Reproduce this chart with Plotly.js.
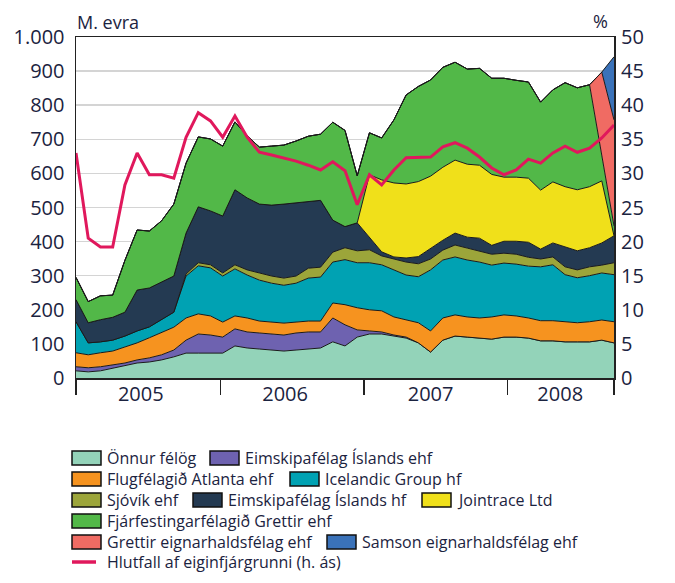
<!DOCTYPE html>
<html>
<head>
<meta charset="utf-8">
<script src="https://cdn.plot.ly/plotly-3.0.1.min.js"></script>
<style>
  html, body { margin: 0; padding: 0; background: #fff; }
  #chart { width: 675px; height: 583px; }
</style>
</head>
<body>
<div id="chart"></div>
<script>
// monthly, jan 2005 - sep 2008
const months = [
  "2005-01","2005-02","2005-03","2005-04","2005-05","2005-06","2005-07","2005-08","2005-09","2005-10","2005-11","2005-12",
  "2006-01","2006-02","2006-03","2006-04","2006-05","2006-06","2006-07","2006-08","2006-09","2006-10","2006-11","2006-12",
  "2007-01","2007-02","2007-03","2007-04","2007-05","2007-06","2007-07","2007-08","2007-09","2007-10","2007-11","2007-12",
  "2008-01","2008-02","2008-03","2008-04","2008-05","2008-06","2008-07","2008-08","2008-09"
];
const years = ["2005", "2006", "2007", "2008"];

// M. evra
const onnur = [21,18,21,29,38,44,47,53,62,73,73,73,73,94,88,85,82,79,82,85,88,106,94,120,129,129,123,117,103,76,111,123,120,117,114,120,120,117,109,109,106,106,106,111,103];
const eimskipEhf = [12,12,12,9,6,9,12,15,20,38,56,53,47,50,47,47,47,47,50,50,47,70,62,21,9,6,3,3,0,0,0,0,0,0,0,0,0,0,0,0,0,0,0,0,0];
const atlanta = [41,38,41,41,47,50,59,65,67,65,59,56,44,38,41,35,35,35,32,32,32,44,59,65,62,62,53,50,59,62,65,62,59,59,65,65,62,59,59,59,59,56,59,59,62];
const icelandic = [91,35,32,32,32,35,32,38,44,123,141,141,135,138,126,120,114,111,114,126,129,120,132,132,138,135,138,132,135,179,170,170,167,164,152,152,152,152,158,164,138,132,135,138,138];
const sjovik = [0,0,0,0,0,0,0,0,0,6,9,9,9,12,15,21,21,21,21,29,29,29,35,35,38,26,32,38,38,32,29,35,35,32,32,29,29,26,23,23,23,23,26,23,35];
const eimskipHf = [65,59,65,67,70,120,114,111,106,120,164,158,167,220,211,202,208,217,214,196,196,94,62,82,35,12,6,12,21,32,29,35,32,38,26,35,38,44,29,41,59,56,56,65,79];
const jointrace = [0,0,0,0,0,0,0,0,0,0,0,0,0,0,0,0,0,0,0,0,0,0,0,0,185,211,217,217,220,211,214,214,214,214,208,188,188,188,173,179,176,179,179,182,0];
const grettirFjarf = [65,62,70,65,152,176,167,179,211,205,205,211,205,199,182,167,173,173,182,191,194,287,282,138,123,123,185,261,279,282,293,287,279,284,282,290,284,282,258,270,305,299,299,73,29];
const grettirEign = [0,0,0,0,0,0,0,0,0,0,0,0,0,0,0,0,0,0,0,0,0,0,0,0,0,0,0,0,0,0,0,0,0,0,0,0,0,0,0,0,0,0,0,246,311];
const samson = [0,0,0,0,0,0,0,0,0,0,0,0,0,0,0,0,0,0,0,0,0,0,0,0,0,0,0,0,0,0,0,0,0,0,0,0,0,0,0,0,0,0,0,0,185];

// % (right axis)
const hlutfall = [33.0,20.5,19.2,19.2,28.3,33.0,29.8,29.8,29.3,35.3,38.9,37.7,35.3,38.4,35.3,33.1,32.7,32.3,31.8,31.2,30.5,31.7,30.4,25.4,29.8,28.3,30.5,32.3,32.3,32.4,33.9,34.5,33.7,32.4,30.8,29.8,30.5,32.1,31.5,33.0,34.0,33.1,33.7,35.2,37.1];

const series = [
  {name: "Önnur félög", y: onnur, color: "#93d3b9"},
  {name: "Eimskipafélag Íslands ehf", y: eimskipEhf, color: "#6e62b0"},
  {name: "Flugfélagið Atlanta ehf", y: atlanta, color: "#f6931f"},
  {name: "Icelandic Group hf", y: icelandic, color: "#00a2b3"},
  {name: "Sjóvík ehf", y: sjovik, color: "#9ca53a"},
  {name: "Eimskipafélag Íslands hf", y: eimskipHf, color: "#243a52"},
  {name: "Jointrace Ltd", y: jointrace, color: "#f0e01a"},
  {name: "Fjárfestingarfélagið Grettir ehf", y: grettirFjarf, color: "#52b848"},
  {name: "Grettir eignarhaldsfélag ehf", y: grettirEign, color: "#f06b63"},
  {name: "Samson eignarhaldsfélag ehf", y: samson, color: "#3a72b9"}
];
const lineName = "Hlutfall af eiginfjárgrunni (h. ás)";
const lineColor = "#e0185c";

const xs = months.map((m, i) => i);
const textColor = "#1b2340";
const font = "Open Sans, sans-serif";

const data = series.map(s => ({
  x: xs,
  y: s.y,
  name: s.name,
  type: "scatter",
  mode: "lines",
  stackgroup: "one",
  fillcolor: s.color,
  line: {color: "#1a1a1a", width: 1},
  showlegend: false,
  hoverinfo: "skip"
}));

// the % line sits on its own x2/y2 pair, x2 carries the year labels
data.push({
  x: xs,
  y: hlutfall,
  name: lineName,
  xaxis: "x2",
  yaxis: "y2",
  type: "scatter",
  mode: "lines",
  line: {color: lineColor, width: 3},
  showlegend: false,
  hoverinfo: "skip"
});

// plot box in pixels
const L = 76, R = 614, T = 37, B = 378;
const px = x => (x - L) / (R - L);
const py = y => (B - y) / (B - T);

const shapes = [];
const annotations = [
  {text: "M. evra", xref: "paper", yref: "paper", x: px(75), y: py(22), xanchor: "left", yanchor: "middle", showarrow: false, font: {family: font, size: 18, color: textColor}},
  {text: "%", xref: "paper", yref: "paper", x: px(600), y: py(21), xanchor: "center", yanchor: "middle", showarrow: false, font: {family: font, size: 18, color: textColor}}
];

// legend rows, built by hand to keep the reference layout
const legendRows = [[0, 1], [2, 3], [4, 5, 6], [7], [8, 9]];
const legendX = [[72, 210], [72, 290], [72, 193, 422], [72], [72, 327]];
const legendY = [458, 479, 500, 521, 542, 562];

legendRows.forEach((row, r) => {
  row.forEach((k, j) => {
    const x0 = legendX[r][j];
    const yc = legendY[r];
    shapes.push({type: "rect", xref: "paper", yref: "paper",
      x0: px(x0), x1: px(x0 + 29), y0: py(yc + 7), y1: py(yc - 7),
      fillcolor: series[k].color, line: {color: "#111", width: 1.5}});
    annotations.push({text: series[k].name, xref: "paper", yref: "paper",
      x: px(x0 + 33), y: py(yc), xanchor: "left", yanchor: "middle", showarrow: false,
      font: {family: font, size: 16, color: textColor}});
  });
});
shapes.push({type: "line", xref: "paper", yref: "paper",
  x0: px(72), x1: px(96), y0: py(legendY[5]), y1: py(legendY[5]),
  line: {color: lineColor, width: 3.5}});
annotations.push({text: lineName, xref: "paper", yref: "paper",
  x: px(105), y: py(legendY[5]), xanchor: "left", yanchor: "middle", showarrow: false,
  font: {family: font, size: 16, color: textColor}});

const layout = {
  width: 675,
  height: 583,
  margin: {l: L, r: 675 - R, t: T, b: 583 - B},
  paper_bgcolor: "#fff",
  plot_bgcolor: "#fff",
  separators: ",.",
  showlegend: false,
  font: {family: font, color: textColor},
  xaxis: {
    range: [0, 44],
    tickvals: [0, 11.8, 23.55, 35.3, 44],
    ticktext: ["", "", "", "", ""],
    ticks: "outside",
    ticklen: 15,
    tickwidth: 1.5,
    tickcolor: "#222",
    showgrid: false,
    zeroline: false,
    showline: true,
    mirror: true,
    linecolor: "#222",
    linewidth: 1.5
  },
  xaxis2: {
    overlaying: "x",
    anchor: "y2",
    side: "bottom",
    range: [0, 44],
    tickvals: [5.3, 17.1, 29.0, 39.6],
    ticktext: years,
    ticks: "",
    ticklabelstandoff: 2,
    showgrid: false,
    zeroline: false,
    showline: false,
    tickfont: {family: font, size: 20, color: textColor}
  },
  yaxis: {
    range: [0, 1000],
    dtick: 100,
    tickformat: ",d",
    ticks: "",
    ticklabelstandoff: 6,
    showgrid: true,
    gridcolor: "#d4d4d4",
    gridwidth: 1.5,
    zeroline: false,
    showline: true,
    mirror: true,
    linecolor: "#222",
    linewidth: 1.5,
    tickfont: {family: font, size: 20, color: textColor}
  },
  yaxis2: {
    overlaying: "y",
    anchor: "x2",
    side: "right",
    range: [0, 50],
    dtick: 5,
    ticks: "",
    ticklabelstandoff: 6,
    showgrid: false,
    zeroline: false,
    showline: false,
    tickfont: {family: font, size: 20, color: textColor}
  },
  shapes: shapes,
  annotations: annotations
};

Plotly.newPlot("chart", data, layout, {staticPlot: true, displayModeBar: false});
</script>
</body>
</html>
